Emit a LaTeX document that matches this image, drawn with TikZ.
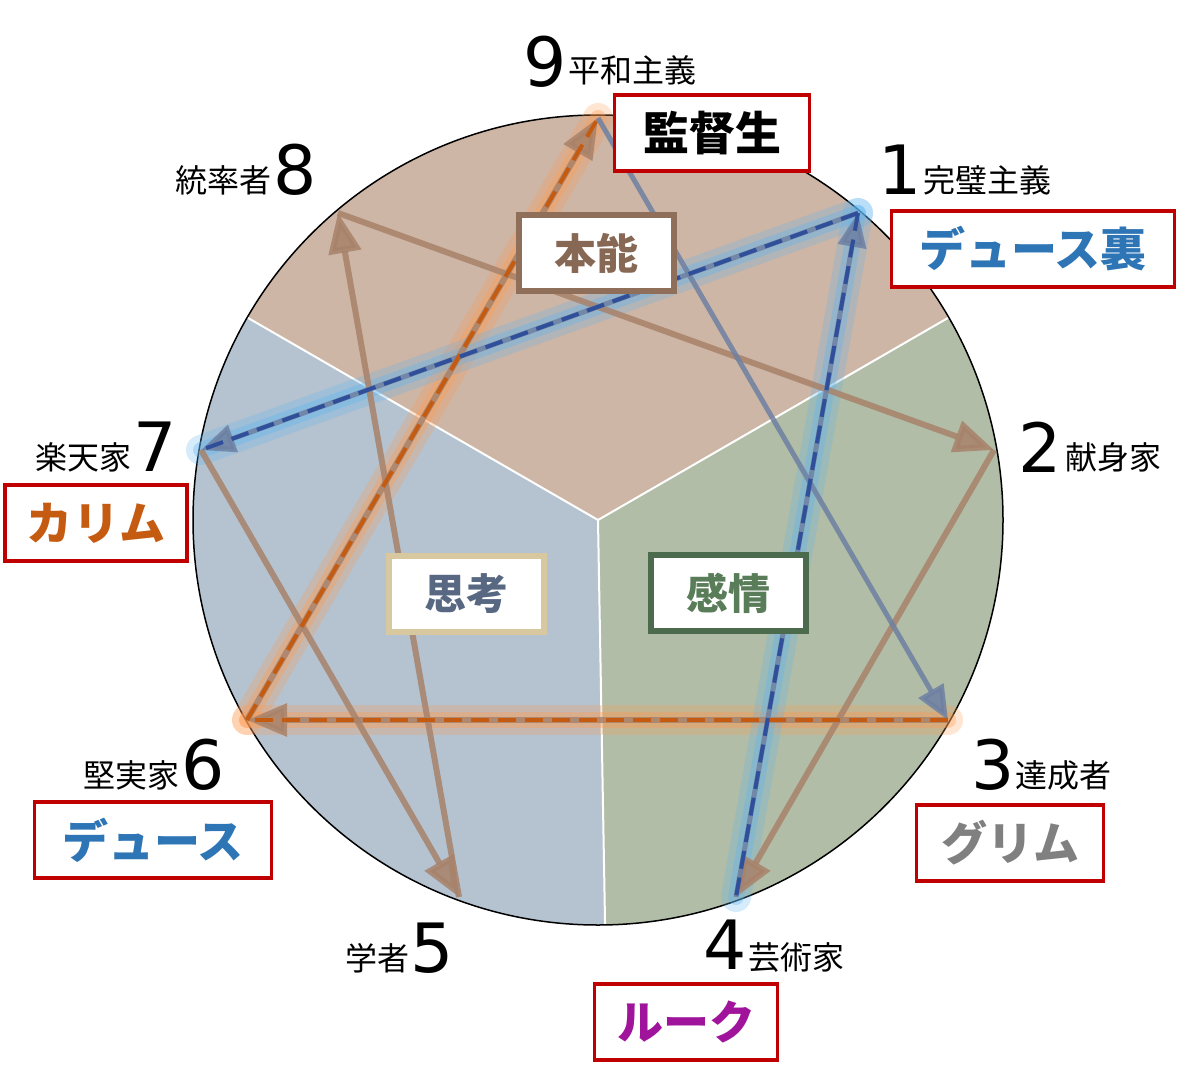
\documentclass[tikz,border=0pt]{standalone}
\usepackage{fontspec}
\setmainfont{Noto Sans CJK JP}
\newfontfamily\numf{DejaVu Sans}
\newfontfamily\boldjp{Noto Sans CJK JP Black}
\usetikzlibrary{arrows.meta}
\definecolor{secA}{HTML}{CDB6A6}
\definecolor{secB}{HTML}{B5C3D0}
\definecolor{secC}{HTML}{B1BDA6}
\definecolor{brn}{HTML}{A8826A}
\definecolor{gbl}{HTML}{6E80A2}
\definecolor{org}{HTML}{C55A11}
\definecolor{dbl}{HTML}{2F4F9A}
\definecolor{boxred}{HTML}{C00000}
\definecolor{txblue}{HTML}{2E75B6}
\definecolor{txpur}{HTML}{A0139B}
\definecolor{glb}{HTML}{5FB4F0}
\definecolor{glo}{HTML}{FF9A50}
\definecolor{beige}{HTML}{D8C8A0}
\tikzset{
 lnb/.style={brn,opacity=0.85,line width=6pt,-{Triangle[length=40pt,width=32pt]}},
 lng/.style={gbl,opacity=0.85,line width=5pt,-{Triangle[length=34pt,width=28pt]}},
 glowo/.style={glo,opacity=0.25,line width=30pt,line cap=round},
 glowb/.style={glb,opacity=0.25,line width=30pt,line cap=round},
 glowo2/.style={glo,opacity=0.35,line width=16pt,line cap=round},
 glowb2/.style={glb,opacity=0.35,line width=16pt,line cap=round},
 dso/.style={org,line width=4pt,dash pattern=on 18pt off 9pt},
 dsb/.style={dbl,line width=4pt,dash pattern=on 18pt off 9pt},
 tag/.style={draw=boxred,line width=3.5pt,fill=white,font=\boldjp\fontsize{46}{50}\selectfont,minimum width=180pt,minimum height=76pt,inner sep=2pt},
 inbox/.style={line width=6pt,fill=white,font=\boldjp\fontsize{42}{46}\selectfont,minimum width=155pt,minimum height=76pt},
 num/.style={font=\numf\fontsize{68}{72}\selectfont,inner sep=0pt},
 nm/.style={font=\fontsize{32}{35}\selectfont,inner sep=0pt},
}
\begin{document}
\begin{tikzpicture}[x=1pt,y=-1pt]
\useasboundingbox (0,0) rectangle (1190,1083);
\coordinate (c) at (598,520);
\def\R{405}
\begin{scope}[shift={(598,520)},yscale=-1]
\fill[secA] (0,0) -- (30:\R) arc[start angle=30,end angle=150,radius=\R] -- cycle;
\fill[secB] (0,0) -- (150:\R) arc[start angle=150,end angle=271,radius=\R] -- cycle;
\fill[secC] (0,0) -- (271:\R) arc[start angle=271,end angle=390,radius=\R] -- cycle;
\draw[white,line width=2pt] (0,0) -- (30:\R) (0,0) -- (150:\R) (0,0) -- (271:\R);
\draw[line width=1.5pt] (0,0) circle[radius=\R];
\end{scope}
\coordinate (p9) at (598,118);
\coordinate (p1) at (858,213);
\coordinate (p2) at (994,450);
\coordinate (p3) at (948,720);
\coordinate (p4) at (736,897);
\coordinate (p5) at (459,897);
\coordinate (p6) at (247,720);
\coordinate (p7) at (201,450);
\coordinate (p8) at (338,213);
% glows
\draw[glowo] (p6) -- (p9); \draw[glowo2] (p6) -- (p9);
\draw[glowo] (p3) -- (p6); \draw[glowo2] (p3) -- (p6);
\draw[glowb] (p1) -- (p7); \draw[glowb2] (p1) -- (p7);
\draw[glowb] (p1) -- (p4); \draw[glowb2] (p1) -- (p4);
% solid lines
\draw[lnb] (p7) -- (p5);
\draw[lnb] (p5) -- (p8);
\draw[lnb] (p8) -- (p2);
\draw[lnb] (p2) -- (p4);
\draw[lnb] (p3) -- (p6);
\draw[lnb] (p6) -- (p9);
\draw[lng] (p9) -- (p3);
\draw[lng] (p4) -- (p1);
\draw[lng] (p1) -- (p7);
% dashed overlays
\draw[dso] (p6) -- (p9);
\draw[dso] (p3) -- (p6);
\draw[dsb] (p1) -- (p7);
\draw[dsb] (p1) -- (p4);
% inner boxes
\node[inbox,draw=brn!85!black,text=brn!80!black] (hon) at (596,253) {本能};
\node[inbox,draw=beige,text=gbl!80!black] (shi) at (466,594) {思考};
\node[inbox,draw=black!70!green!40!gray,text=black!55!green!30!gray] (kan) at (728,593) {感情};
% number labels
\node[num] (n9) at (545,62) {9}; \node[nm,anchor=west] (t9) at (568,70) {平和主義};
\node[num] (n8) at (295,170) {8}; \node[nm,anchor=east] (t8) at (272,180) {統率者};
\node[num] (n1) at (900,170) {1}; \node[nm,anchor=west] (t1) at (923,180) {完璧主義};
\node[num] (n2) at (1040,447) {2}; \node[nm,anchor=west] (t2) at (1065,457) {献身家};
\node[num] (n7) at (155,447) {7}; \node[nm,anchor=east] (t7) at (132,457) {楽天家};
\node[num] (n3) at (993,765) {3}; \node[nm,anchor=west] (t3) at (1015,775) {達成者};
\node[num] (n6) at (203,765) {6}; \node[nm,anchor=east] (t6) at (180,775) {堅実家};
\node[num] (n5) at (432,948) {5}; \node[nm,anchor=east] (t5) at (410,958) {学者};
\node[num] (n4) at (725,945) {4}; \node[nm,anchor=west] (t4) at (748,958) {芸術家};
% tags
\node[tag,minimum width=195pt] (k1) at (712,133) {監督生};
\node[tag,text=txblue,minimum width=283pt] (k2) at (1033,249) {デュース裏};
\node[tag,text=org,minimum width=182pt] (k3) at (96,523) {カリム};
\node[tag,text=txblue,minimum width=237pt] (k4) at (153,840) {デュース};
\node[tag,text=gray,minimum width=187pt] (k5) at (1010,843) {グリム};
\node[tag,text=txpur,minimum width=183pt] (k6) at (686,1022) {ルーク};
\end{tikzpicture}
\end{document}
